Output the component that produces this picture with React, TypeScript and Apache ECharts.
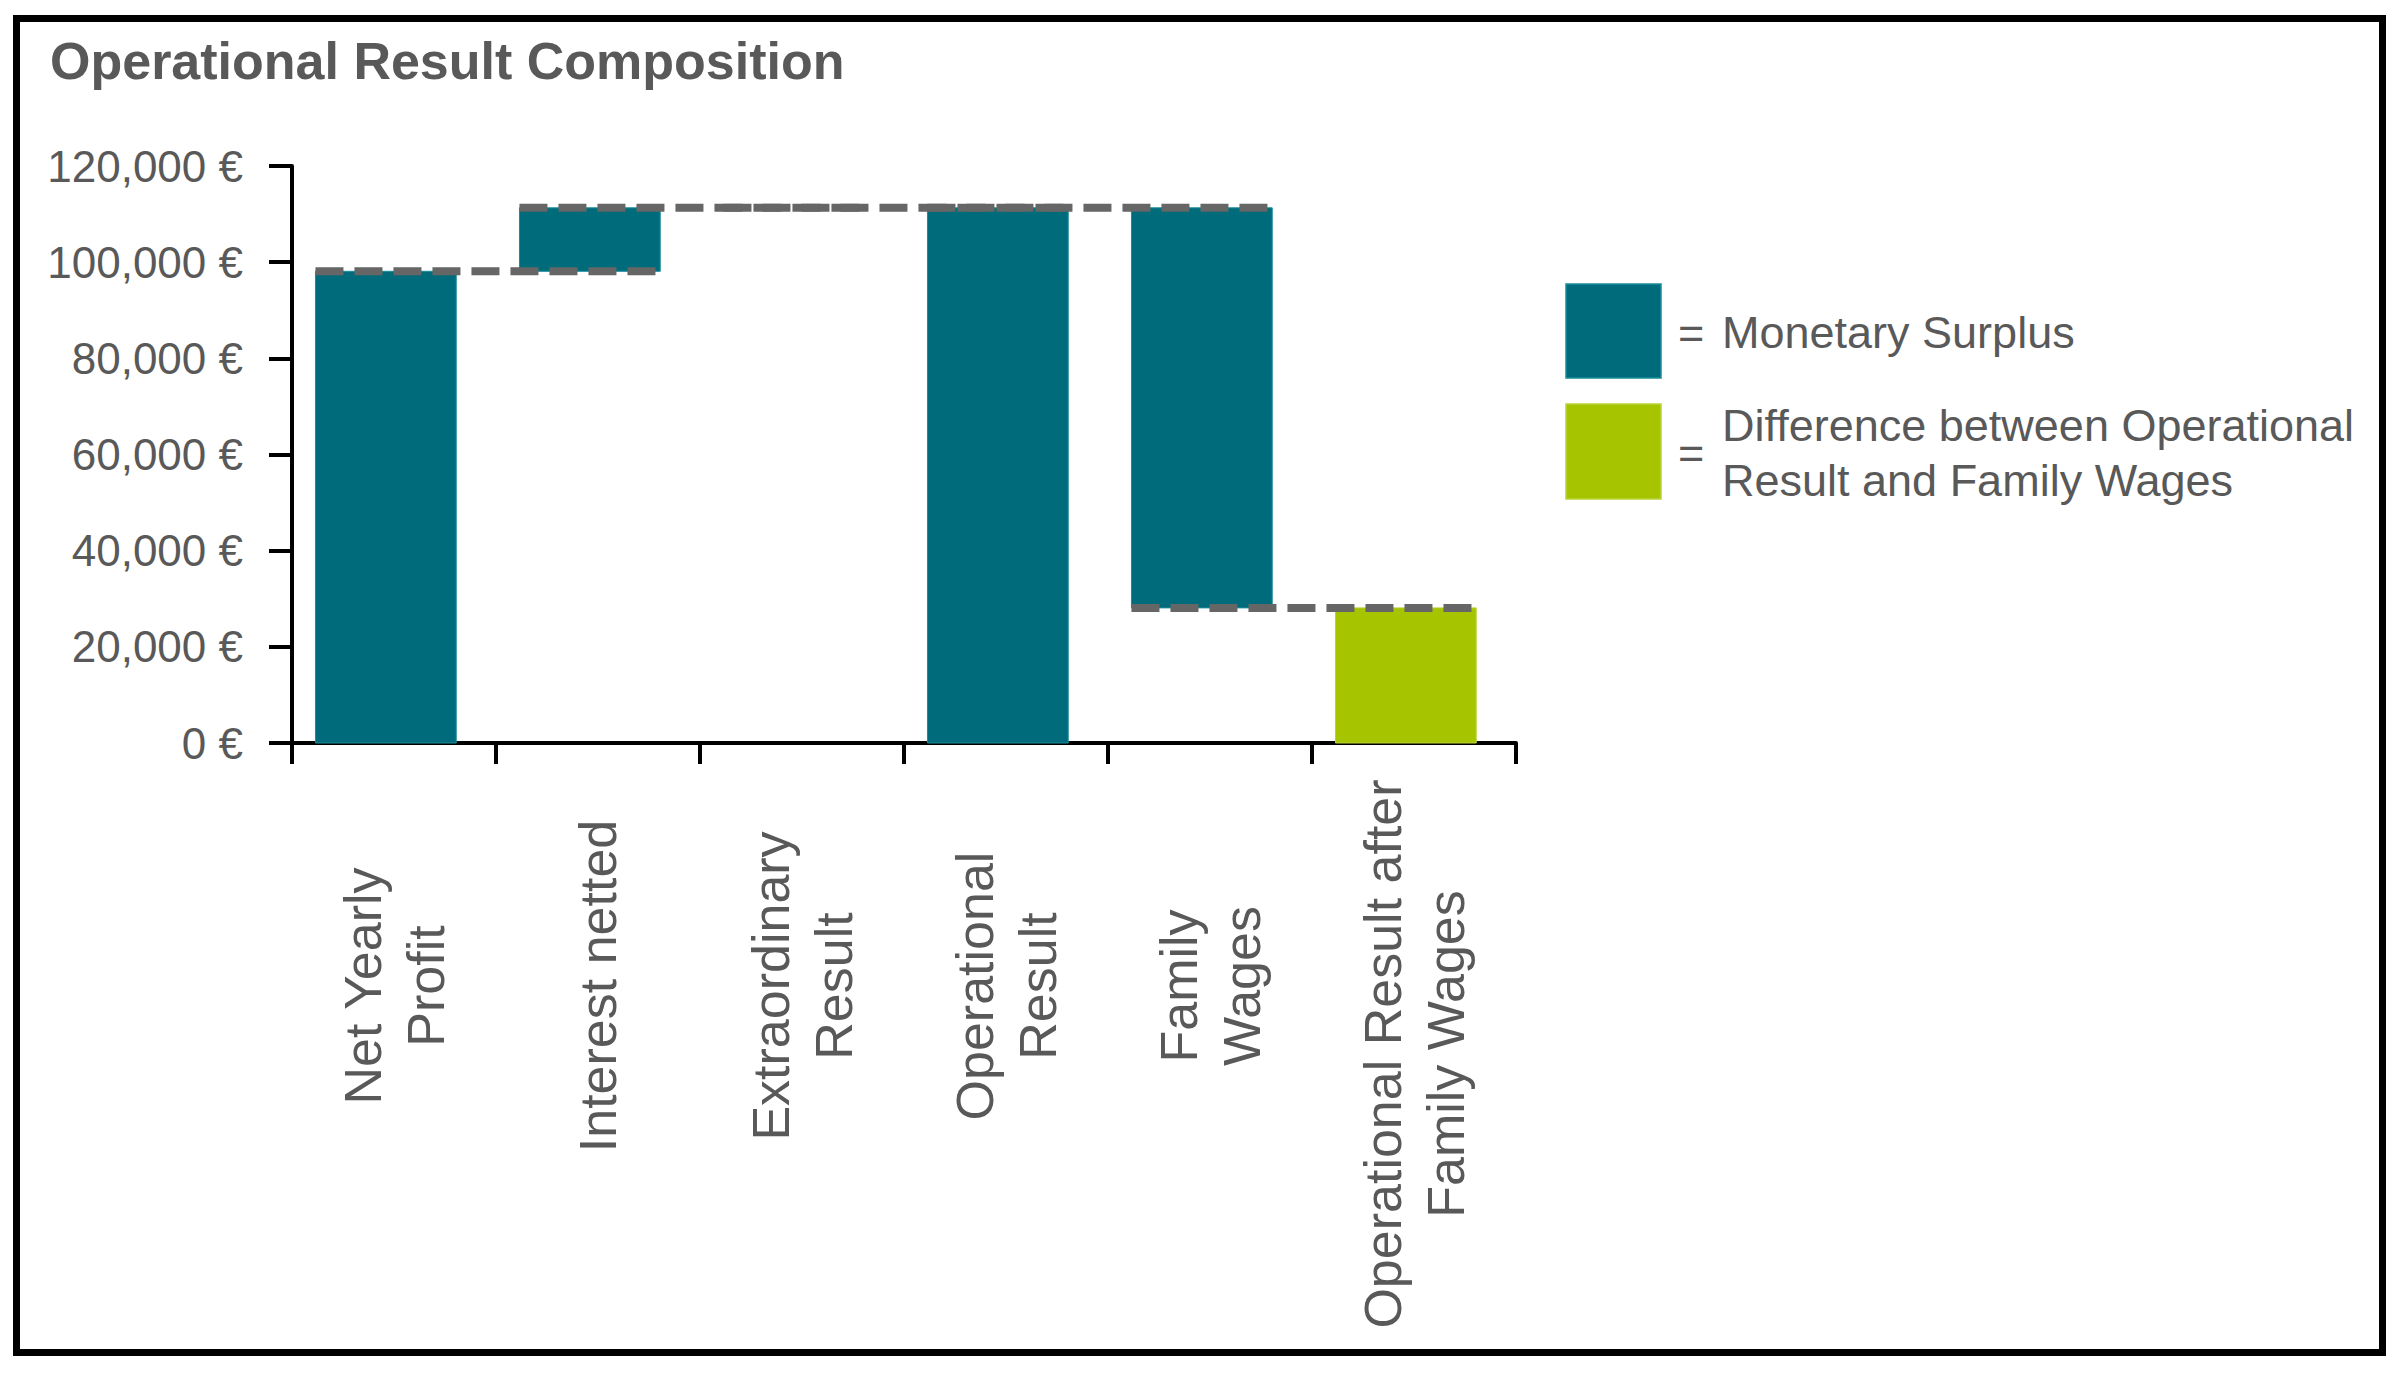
import React, { useEffect, useRef } from "react";
import * as echarts from "echarts";

// ---- data ----
const categories = [
  "Net Yearly\nProfit",
  "Interest netted",
  "Extraordinary\nResult",
  "Operational\nResult",
  "Family\nWages",
  "Operational Result after\nFamily Wages",
];
const barLow = [0, 98100, 111300, 0, 28100, 0];
const barHigh = [98100, 111300, 111300, 111300, 111300, 28100];
// 0 = Monetary Surplus, 1 = Difference between Operational Result and Family Wages
const barKind = [0, 0, 0, 0, 0, 1];
const connectorLevels = [98100, 111300, 111300, 111300, 28100];
const yMin = 0;
const yMax = 120000;
const yInterval = 20000;
const title = "Operational Result Composition";
const legendLabels = ["Monetary Surplus", "Difference between Operational\nResult and Family Wages"];

// ---- style ----
const TEAL = "#006C7B";
const TEAL_EDGE = "#1A8C9A";
const GREEN = "#A6C400";
const GREEN_EDGE = "#B9D33A";
const TEXT = "#595959";
const DASH = "#666666";
const FONT = "'Liberation Sans', Arial, sans-serif";
const BAR_RATIO = 0.69;
const BAR_SHIFT = 0.04;

export default function App() {
  const ref = useRef<HTMLDivElement>(null);

  useEffect(() => {
    document.body.style.margin = "0";
    document.body.style.overflow = "hidden";
    if (!ref.current) return;
    const chart = echarts.init(ref.current, null, { renderer: "svg" });

    const barData = categories.map((_, i) => [i, barLow[i], barHigh[i], barKind[i]]);
    const connData = connectorLevels.map((v, i) => [i, v]);

    const option: any = {
      animation: false,
      backgroundColor: "#ffffff",
      title: {
        text: title,
        left: 50,
        top: 35,
        padding: 0,
        textStyle: {
          fontFamily: FONT,
          fontWeight: "bold",
          fontSize: 52,
          lineHeight: 52,
          color: TEXT,
        },
      },
      grid: {
        left: 292,
        top: 166,
        right: 2398 - 1516,
        bottom: 1373 - 743,
        containLabel: false,
        outerBoundsMode: "none",
      },
      xAxis: {
        type: "category",
        data: categories.map((c, i) =>
          i === categories.length - 1
            ? { value: c, textStyle: { align: "center", verticalAlign: "middle", padding: [0, 136, 0, 0] } }
            : c
        ),
        boundaryGap: true,
        axisLine: { show: true, lineStyle: { color: "#000", width: 4 } },
        axisTick: { show: true, alignWithLabel: false, length: 21, lineStyle: { color: "#000", width: 4 } },
        axisLabel: {
          interval: 0,
          rotate: 90,
          align: "center",
          verticalAlign: "middle",
          margin: 243,
          fontFamily: FONT,
          fontSize: 52,
          lineHeight: 63,
          color: TEXT,
          hideOverlap: false,
        },
        splitLine: { show: false },
      },
      yAxis: {
        type: "value",
        min: yMin,
        max: yMax,
        interval: yInterval,
        axisLine: { show: true, lineStyle: { color: "#000", width: 4 } },
        axisTick: { show: true, length: 23, lineStyle: { color: "#000", width: 4 } },
        axisLabel: {
          margin: 49,
          fontFamily: FONT,
          fontSize: 44,
          color: TEXT,
          formatter: (v: number) => v.toLocaleString("en-US") + " €",
        },
        splitLine: { show: false },
      },
      series: [
        {
          type: "custom",
          name: "bars",
          data: barData,
          encode: { x: 0, y: [1, 2] },
          z: 2,
          renderItem: (params: any, api: any) => {
            const idx = api.value(0);
            const lo = api.coord([idx, api.value(1)]);
            const hi = api.coord([idx, api.value(2)]);
            const band = api.size([1, 0])[0];
            const w = band * BAR_RATIO;
            const x = lo[0] - w / 2 - band * BAR_SHIFT;
            const h = lo[1] - hi[1];
            if (h <= 0.5) return null;
            const kind = api.value(3);
            return {
              type: "rect",
              shape: { x, y: hi[1], width: w, height: h },
              style: {
                fill: kind === 1 ? GREEN : TEAL,
                stroke: kind === 1 ? GREEN_EDGE : TEAL_EDGE,
                lineWidth: 1,
              },
            };
          },
        },
        {
          type: "custom",
          name: "connectors",
          data: connData,
          encode: { x: 0, y: 1 },
          z: 3,
          renderItem: (params: any, api: any) => {
            const i = api.value(0);
            const level = api.value(1);
            const a = api.coord([i, level]);
            const b = api.coord([i + 1, level]);
            const band = api.size([1, 0])[0];
            const w = band * BAR_RATIO;
            const s = band * BAR_SHIFT;
            return {
              type: "line",
              shape: { x1: a[0] - w / 2 - s, y1: a[1], x2: b[0] + w / 2 - s, y2: b[1] },
              style: { stroke: DASH, lineWidth: 8, lineDash: [28, 11], fill: null },
            };
          },
        },
      ],
      graphic: [
        {
          type: "rect",
          shape: { x: 16.5, y: 18.5, width: 2366, height: 1334 },
          style: { fill: "none", stroke: "#000", lineWidth: 7 },
          silent: true,
          z: 10,
        },
        {
          type: "rect",
          shape: { x: 1566, y: 284, width: 95, height: 94 },
          style: { fill: TEAL, stroke: TEAL_EDGE, lineWidth: 1.5 },
        },
        {
          type: "rect",
          shape: { x: 1566, y: 404, width: 95, height: 95 },
          style: { fill: GREEN, stroke: GREEN_EDGE, lineWidth: 1.5 },
        },
        {
          type: "text",
          style: { text: "=", x: 1678, y: 332, fill: TEXT, font: `45px ${FONT}`, verticalAlign: "middle", align: "left" },
        },
        {
          type: "text",
          style: { text: legendLabels[0], x: 1722, y: 332, fill: TEXT, font: `45px ${FONT}`, verticalAlign: "middle", align: "left" },
        },
        {
          type: "text",
          style: { text: "=", x: 1678, y: 452.5, fill: TEXT, font: `45px ${FONT}`, verticalAlign: "middle", align: "left" },
        },
        {
          type: "text",
          style: {
            text: legendLabels[1],
            x: 1722,
            y: 452.5,
            fill: TEXT,
            font: `45px ${FONT}`,
            lineHeight: 55,
            verticalAlign: "middle",
            align: "left",
          },
        },
      ],
    };

    chart.setOption(option);
    return () => chart.dispose();
  }, []);

  return <div ref={ref} style={{ width: 2398, height: 1373 }} />;
}
